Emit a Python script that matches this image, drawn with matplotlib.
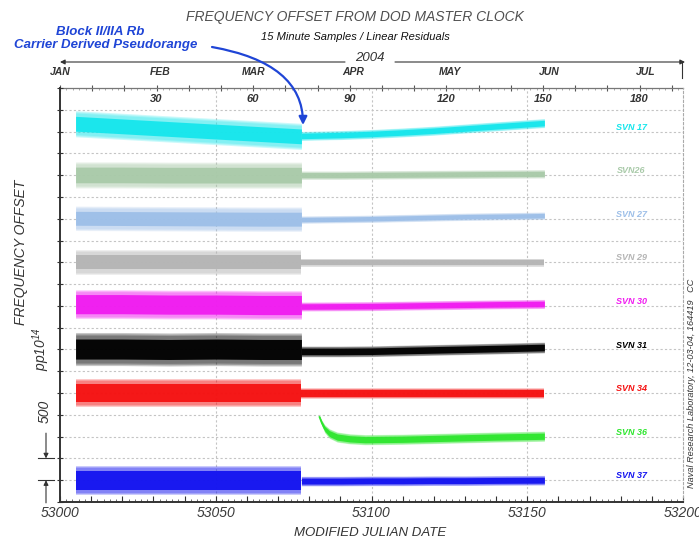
import numpy as np
import matplotlib
matplotlib.use('Agg')
import matplotlib.pyplot as plt
import matplotlib.transforms as mtransforms
from matplotlib.patches import FancyArrowPatch
from matplotlib.lines import Line2D
from matplotlib.ticker import MultipleLocator, FuncFormatter

plt.rcParams['font.family'] = 'Liberation Sans'
plt.rcParams['mathtext.fontset'] = 'custom'
plt.rcParams['mathtext.it'] = 'Liberation Sans:italic'
plt.rcParams['mathtext.rm'] = 'Liberation Sans:italic'

W, H = 699, 541

# ---- data: frequency offsets in pp10^14, satellites stacked 1000 apart ----
svn_names = ['SVN 17', 'SVN26', 'SVN 27', 'SVN 29', 'SVN 30', 'SVN 31', 'SVN 34', 'SVN 36', 'SVN 37']
svn_colors = ['#16e6ec', '#a9caa9', '#9dbfe8', '#b5b5b5', '#f01cf0', '#000000', '#f51212', '#2ee62e', '#1414f0']
levels = [8000, 7000, 6000, 5000, 4000, 3000, 2000, 1000, 0]

# first part of the span (noisier data)
left_mjd = [53005, 53020, 53035, 53050, 53065, 53077.5]
left_mid = [
    [8180, 8120, 8060, 8000, 7940, 7890],
    [7005, 7005, 7000, 7000, 7000, 7000],
    [6010, 6005, 6000, 5995, 5990, 5990],
    [5000, 5000, 5000, 5000, 5000, 5000],
    [4040, 4040, 4030, 4030, 4020, 4020],
    [3010, 3010, 3000, 3010, 3000, 3000],
    [2000, 2000, 2000, 2000, 2000, 2000],
    None,
    [0, 0, 0, 0, 0, 0],
]
left_core = [170, 180, 160, 160, 220, 230, 210, 0, 220]
left_fuzz = [300, 300, 280, 290, 330, 380, 330, 0, 330]

# second part of the span (carrier derived, quieter)
right_mjd = [53077.5, 53090, 53100, 53110, 53120, 53130, 53140, 53155.5]
right_mid = [
    [7900, 7920, 7945, 7980, 8020, 8070, 8120, 8195],
    [7000, 7000, 7005, 7010, 7015, 7020, 7025, 7030],
    [5980, 5990, 6000, 6015, 6030, 6045, 6055, 6070],
    [4990, 4990, 4990, 4990, 4990, 4990, 4990, 4990],
    [3985, 3990, 3995, 4005, 4015, 4025, 4035, 4045],
    [2955, 2955, 2960, 2975, 2990, 3005, 3020, 3045],
    [1990, 1990, 1990, 1990, 1990, 1990, 1990, 1990],
    None,
    [-20, -20, -15, -15, -10, -10, -5, 0],
]
right_half = [80, 75, 65, 75, 80, 95, 90, 90, 85]

# SVN 36 starts later with a settling transient
svn36_mjd = [53083.3, 53084.0, 53085.0, 53086.5, 53089, 53093, 53098, 53110, 53125, 53140, 53155.5]
svn36_mid = [1450, 1320, 1180, 1070, 990, 950, 930, 940, 965, 990, 1010]
svn36_half = [30, 50, 70, 85, 90, 90, 90, 90, 90, 90, 90]

month_names = ['JAN', 'FEB', 'MAR', 'APR', 'MAY', 'JUN', 'JUL']
month_doy = [0, 31, 60, 91, 121, 152, 182]
doy_labels = [30, 60, 90, 120, 150, 180]


def fpx(x, y):
    return x / W, 1 - y / H


def mjd2doy(m):
    return (np.asarray(m) - 53000) / 1.0337


def doy2mjd(d):
    return 53000 + np.asarray(d) * 1.0337


def band(x, mid, core, outer, c):
    # solid core plus soft edges to look like a dense cloud of samples
    mid = np.asarray(mid, dtype=float)
    core = np.asarray(core, dtype=float)
    outer = np.asarray(outer, dtype=float)
    for f in [1.0, 0.8, 0.6]:
        w = core + (outer - core) * f
        ax.fill_between(x, mid - w, mid + w, color=c, alpha=0.22, lw=0, zorder=2)
    ax.fill_between(x, mid - core, mid + core, color=c, alpha=0.95, lw=0, zorder=3)


fig = plt.figure(figsize=(W / 100, H / 100), dpi=100)
ax = fig.add_axes([60 / W, 39 / H, 623 / W, 414 / H])
ax.set_xlim(53000, 53200)
ax.set_ylim(-500, 9000)

# grid
for g in np.arange(0, 9000, 500):
    ax.axhline(g, color='#c4c4c4', lw=0.8, ls=(0, (2, 2)), zorder=0)
for g in [53050, 53100, 53150]:
    ax.axvline(g, color='#c4c4c4', lw=0.8, ls=(0, (2, 2)), zorder=0)

# bands
for i, c in enumerate(svn_colors):
    if left_mid[i] is not None:
        band(left_mjd, left_mid[i], left_core[i], left_fuzz[i], c)
    if right_mid[i] is not None:
        band(right_mjd, right_mid[i], right_half[i] * 0.8, right_half[i] * 1.3, c)
band(svn36_mjd, svn36_mid, np.array(svn36_half) * 0.8, np.array(svn36_half) * 1.3, svn_colors[7])
ax.plot(svn36_mjd[:4], svn36_mid[:4], color=svn_colors[7], lw=1.2, zorder=3)

# right-hand labels
for name, c, lvl in zip(svn_names, svn_colors, levels):
    ax.text(53183.5, lvl + 100, name, color=c, fontsize=6.5, fontstyle='italic',
            fontweight='bold', ha='center', va='center')

# spines / ticks
for s in ['left', 'bottom']:
    ax.spines[s].set_color('#333333')
    ax.spines[s].set_linewidth(1.4)
ax.spines['right'].set_color('#aaaaaa')
ax.spines['right'].set_linestyle((0, (2, 2)))
ax.spines['right'].set_linewidth(0.8)
ax.spines['top'].set_visible(False)

ax.xaxis.set_major_locator(MultipleLocator(10))
ax.xaxis.set_minor_locator(MultipleLocator(2))
ax.xaxis.set_major_formatter(FuncFormatter(lambda v, p: f'{v:.0f}' if round(v) % 50 == 0 else ''))
ax.tick_params(axis='x', which='major', direction='in', length=4, width=0.8, color='#333333',
               labelsize=10, labelcolor='#3a3a3a', pad=3)
ax.tick_params(axis='x', which='minor', direction='in', length=2, width=0.6, color='#555555')
for lab in ax.get_xticklabels():
    lab.set_fontstyle('italic')
ax.yaxis.set_major_locator(MultipleLocator(500))
ax.tick_params(axis='y', which='major', direction='inout', length=4, width=0.8, color='#333333',
               labelleft=False)

# top day-of-year axis
secax = ax.secondary_xaxis('top', functions=(mjd2doy, doy2mjd))
secax.xaxis.set_major_locator(MultipleLocator(10))
secax.xaxis.set_minor_locator(MultipleLocator(2))
secax.tick_params(axis='x', which='major', direction='inout', length=5, width=0.8, color='#555555', labeltop=False)
secax.tick_params(axis='x', which='minor', direction='in', length=1.5, width=0.5, color='#888888')
secax.spines['top'].set_color('#777777')
secax.spines['top'].set_linestyle((0, (1, 1)))
secax.spines['top'].set_linewidth(0.9)

bt = mtransforms.blended_transform_factory(ax.transData, ax.transAxes)
for d in doy_labels:
    ax.text(doy2mjd(d), (502 - 99) / 414, str(d), transform=bt, fontsize=8, fontstyle='italic',
            fontweight='bold', color='#333333', ha='center', va='center')
for name, d in zip(month_names, month_doy):
    ax.text(doy2mjd(d), (502 - 72) / 414, name, transform=bt, fontsize=7.5, fontstyle='italic',
            fontweight='bold', color='#333333', ha='center', va='center', clip_on=False)

# year arrow
fig.add_artist(FancyArrowPatch(fpx(345, 62), fpx(60, 62), transform=fig.transFigure,
                               arrowstyle='-|>', mutation_scale=7, lw=0.8, color='#333333',
                               shrinkA=0, shrinkB=0))
fig.add_artist(FancyArrowPatch(fpx(395, 62), fpx(685, 62), transform=fig.transFigure,
                               arrowstyle='-|>', mutation_scale=7, lw=0.8, color='#333333',
                               shrinkA=0, shrinkB=0))
fig.add_artist(Line2D([682 / W, 682 / W], [1 - 62 / H, 1 - 78 / H], transform=fig.transFigure,
                      color='#333333', lw=0.8))
fig.text(*fpx(370, 58), '2004', fontsize=9.5, fontstyle='italic', color='#333333', ha='center', va='center')

# titles
fig.text(*fpx(355, 17), 'FREQUENCY OFFSET FROM DOD MASTER CLOCK', fontsize=10, fontstyle='italic',
         color='#505050', ha='center', va='center')
fig.text(*fpx(355, 37), '15 Minute Samples / Linear Residuals', fontsize=8, fontstyle='italic',
         color='#111111', ha='center', va='center')
fig.text(*fpx(370, 533), 'MODIFIED JULIAN DATE', fontsize=9.5, fontstyle='italic',
         color='#333333', ha='center', va='center')
fig.text(*fpx(21, 252), 'FREQUENCY OFFSET', fontsize=10, fontstyle='italic', rotation=90,
         color='#333333', ha='center', va='center')
fig.text(*fpx(41, 349), r'$pp10^{14}$', fontsize=10, rotation=90,
         color='#333333', ha='center', va='center')
fig.text(*fpx(45, 411), '500', fontsize=10, fontstyle='italic', rotation=90,
         color='#333333', ha='center', va='center')
fig.text(*fpx(692, 383), 'Naval Research Laboratory, 12-03-04, 164419   CC', fontsize=6.6,
         fontstyle='italic', rotation=90, color='#333333', ha='center', va='center')

# 500 scale bar
st = mtransforms.blended_transform_factory(fig.transFigure, ax.transData)
for yv in [500, 0]:
    ax.add_artist(Line2D([38 / W, 54 / W], [yv, yv], transform=st, color='#333333', lw=0.8, clip_on=False))
ax.annotate('', xy=(46 / W, 500), xytext=(46 / W, 1080), xycoords=st, textcoords=st,
            arrowprops=dict(arrowstyle='-|>', color='#333333', lw=0.8, mutation_scale=7,
                            shrinkA=0, shrinkB=0), annotation_clip=False)
ax.annotate('', xy=(46 / W, 0), xytext=(46 / W, -520), xycoords=st, textcoords=st,
            arrowprops=dict(arrowstyle='-|>', color='#333333', lw=0.8, mutation_scale=7,
                            shrinkA=0, shrinkB=0), annotation_clip=False)

# blue callout
blue = '#1f45d6'
fig.text(*fpx(100, 32), 'Block II/IIA Rb', fontsize=9.5, fontstyle='italic', fontweight='bold',
         color=blue, ha='center', va='center')
fig.text(*fpx(106, 45), 'Carrier Derived Pseudorange', fontsize=9.5, fontstyle='italic', fontweight='bold',
         color=blue, ha='center', va='center')
fig.add_artist(FancyArrowPatch(fpx(212, 47), fpx(303, 125), transform=fig.transFigure,
                               connectionstyle='angle3,angleA=-10,angleB=90',
                               arrowstyle='-|>', mutation_scale=12, lw=1.6, color=blue,
                               shrinkA=0, shrinkB=0, zorder=10))

fig.savefig('out.png', dpi=100)
